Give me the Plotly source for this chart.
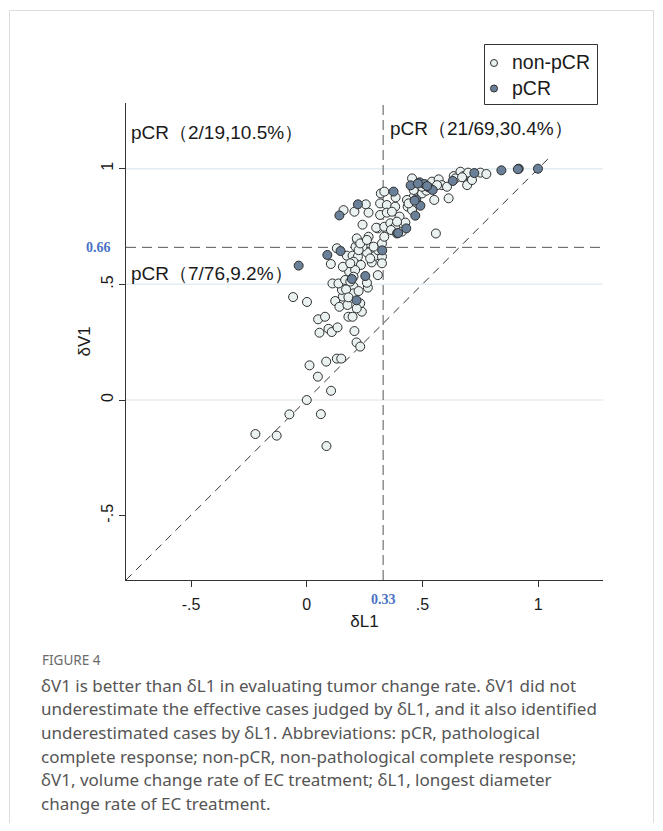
import plotly.graph_objects as go

# ---------------- data ----------------
nonpcr_x = [-0.222, -0.130, -0.075, 0.000, 0.061, 0.085, 0.105, 0.048, 0.012, 0.084,
            0.130, 0.149, 0.215, 0.231, 0.206, 0.055, 0.094, 0.108, 0.133, 0.049,
            0.079, 0.180, 0.198, 0.238, -0.059, 0.001, 0.123, 0.141, 0.176, 0.156,
            0.152, 0.111, 0.137, 0.202, 0.202, 0.264, 0.307, 0.231, 0.216,
            0.130, 0.104, 0.173, 0.198, 0.221, 0.260, 0.281, 0.296, 0.325, 0.307,
            0.241, 0.211, 0.219, 0.267, 0.202, 0.234, 0.183, 0.209, 0.274, 0.166,
            0.260, 0.188, 0.156, 0.188, 0.224, 0.289, 0.325, 0.170, 0.202, 0.224, 0.180,
            0.159, 0.206, 0.255, 0.267, 0.241, 0.216, 0.317, 0.317, 0.307, 0.320,
            0.300, 0.231, 0.260,
            0.335, 0.346, 0.382, 0.384, 0.346, 0.368, 0.401, 0.335, 0.361, 0.382,
            0.426, 0.411, 0.436, 0.455, 0.462, 0.469, 0.498, 0.517, 0.541, 0.551,
            0.570, 0.584, 0.606, 0.613, 0.558, 0.635, 0.664, 0.678, 0.697, 0.693,
            0.714, 0.750, 0.776, 0.462, 0.433, 0.455, 0.390, 0.364, 0.440, 0.498,
            0.563, 0.642, 0.671, 0.335, 0.325]
nonpcr_y = [-0.147, -0.154, -0.062, 0.000, -0.061, -0.199, 0.040, 0.101, 0.150, 0.166,
            0.179, 0.179, 0.249, 0.231, 0.298, 0.291, 0.308, 0.294, 0.314, 0.349,
            0.360, 0.360, 0.360, 0.382, 0.445, 0.424, 0.428, 0.403, 0.411, 0.447,
            0.476, 0.504, 0.504, 0.490, 0.461, 0.486, 0.540, 0.418, 0.396,
            0.656, 0.588, 0.624, 0.624, 0.620, 0.638, 0.595, 0.624, 0.620, 0.648,
            0.663, 0.663, 0.689, 0.706, 0.598, 0.584, 0.555, 0.562, 0.612, 0.519,
            0.507, 0.512, 0.576, 0.591, 0.648, 0.663, 0.677, 0.478, 0.533, 0.471, 0.444,
            0.821, 0.814, 0.846, 0.810, 0.758, 0.699, 0.850, 0.800, 0.742, 0.893,
            0.745, 0.677, 0.692,
            0.901, 0.843, 0.836, 0.876, 0.810, 0.814, 0.793, 0.749, 0.764, 0.749,
            0.767, 0.728, 0.836, 0.958, 0.879, 0.850, 0.893, 0.905, 0.944, 0.865,
            0.954, 0.929, 0.922, 0.872, 0.720, 0.968, 0.987, 0.968, 0.983, 0.929,
            0.951, 0.983, 0.977, 0.908, 0.865, 0.821, 0.771, 0.735, 0.850, 0.922,
            0.929, 0.958, 0.963, 0.706, 0.591]

pcr_x = [0.141, 0.221, 0.089, 0.146, -0.035, 0.195, 0.253, 0.215, 0.326,
         0.375, 0.390, 0.430, 0.449, 0.488, 0.508, 0.527, 0.544, 0.473, 0.491,
         0.469, 0.631, 0.724, 0.841, 0.916, 0.999, 0.912, 0.480, 0.466, 0.395, 0.520]
pcr_y = [0.798, 0.846, 0.627, 0.644, 0.581, 0.523, 0.536, 0.431, 0.647,
         0.901, 0.720, 0.742, 0.928, 0.941, 0.934, 0.919, 0.908, 0.867, 0.840,
         0.797, 0.947, 0.981, 0.993, 1.000, 1.000, 0.998, 0.936, 0.862, 0.722, 0.925]

series_names = ["non-pCR", "pCR"]
series_colors = ["#e9f1f1", "#6a7f98"]

tick_vals = [-0.5, 0, 0.5, 1]
tick_text = ["-.5", "0", ".5", "1"]
grid_vals = [0, 0.5, 1]
cut_l1 = 0.33
cut_v1 = 0.66
x_range = [-0.781, 1.280]
y_range = [-0.778, 1.284]
diag_end = 1.06

quad_labels = ["pCR（2/19,10.5%）", "pCR（21/69,30.4%）", "pCR（7/76,9.2%）"]
quad_x = [-0.770, 0.352, -0.770]
quad_y = [1.155, 1.174, 0.545]

caption_title = "FIGURE 4"
caption_lines = [
    "δV1 is better than δL1 in evaluating tumor change rate. δV1 did not",
    "underestimate the effective cases judged by δL1, and it also identified",
    "underestimated cases by δL1. Abbreviations: pCR, pathological",
    "complete response; non-pCR, non-pathological complete response;",
    "δV1, volume change rate of EC treatment; δL1, longest diameter",
    "change rate of EC treatment.",
]

# ---------------- figure ----------------
OFF = 8                      # page body margin
W, H = 647, 815
ML, MR, MT, MB = 118, 52, 95, 243
PW = W - ML - MR
PH = H - MT - MB


def px_x(p):                 # reference-page pixel -> paper x
    return (p - OFF - ML) / PW


def px_y(p):                 # reference-page pixel -> paper y
    return (H - MB - (p - OFF)) / PH


FONT = "Liberation Sans, Arial, sans-serif"
OUTLINE = "#2e2e2e"

fig = go.Figure()
fig.add_trace(go.Scatter(
    x=nonpcr_x, y=nonpcr_y, mode="markers", name=series_names[0],
    marker=dict(size=9, color=series_colors[0], line=dict(color=OUTLINE, width=1)),
))
fig.add_trace(go.Scatter(
    x=pcr_x, y=pcr_y, mode="markers", name=series_names[1],
    marker=dict(size=9, color=series_colors[1], line=dict(color=OUTLINE, width=1)),
))

shapes = []
for g in grid_vals:
    shapes.append(dict(type="line", xref="paper", yref="y", x0=0, x1=1, y0=g, y1=g,
                       line=dict(color="#e4edf1", width=1.5), layer="below"))
shapes.append(dict(type="line", xref="x", yref="y", x0=cut_l1, x1=cut_l1,
                   y0=y_range[0], y1=y_range[1],
                   line=dict(color="#555555", width=1, dash="10px,5px"), layer="below"))
shapes.append(dict(type="line", xref="x", yref="y", x0=x_range[0], x1=x_range[1],
                   y0=cut_v1, y1=cut_v1,
                   line=dict(color="#555555", width=1, dash="10px,6px"), layer="below"))
shapes.append(dict(type="line", xref="x", yref="y", x0=x_range[0], x1=diag_end,
                   y0=y_range[0], y1=diag_end,
                   line=dict(color="#333333", width=1, dash="8px,6px"), layer="below"))
# card border
shapes.append(dict(type="rect", xref="paper", yref="paper",
                   x0=px_x(9.5), x1=px_x(653.5), y0=px_y(10.5), y1=px_y(860),
                   line=dict(color="#dddddd", width=1), layer="below"))

# legend box (drawn to match the Stata-style legend)
shapes.append(dict(type="rect", xref="paper", yref="paper",
                   x0=px_x(484.5), x1=px_x(597.5), y0=px_y(44.5), y1=px_y(104.5),
                   line=dict(color="#333333", width=1), fillcolor="white", layer="above"))
annotations = []
for i, (nm, col) in enumerate(zip(series_names, series_colors)):
    cy = 63 + 25.5 * i
    shapes.append(dict(type="circle", xref="paper", yref="paper",
                       x0=px_x(490.5), x1=px_x(497.5), y0=px_y(cy - 3.5), y1=px_y(cy + 3.5),
                       line=dict(color=OUTLINE, width=1), fillcolor=col, layer="above"))
    annotations.append(dict(text=nm, x=px_x(510), y=px_y(cy - 1), xref="paper", yref="paper",
                            xanchor="left", yanchor="middle", showarrow=False,
                            font=dict(family=FONT, size=19.5, color="#1a1a1a")))

for t, xx, yy in zip(quad_labels, quad_x, quad_y):
    annotations.append(dict(text=t, x=xx, y=yy, xref="x", yref="y", xanchor="left",
                            yanchor="middle", showarrow=False,
                            font=dict(family=FONT, size=19, color="#1a1a1a")))
annotations.append(dict(text="<b>0.66</b>", x=px_x(113), y=cut_v1, xref="paper", yref="y",
                        xanchor="right", yanchor="middle", showarrow=False,
                        font=dict(family="Liberation Serif, Times New Roman, serif",
                                  size=14, color="#4a72c4")))
annotations.append(dict(text="<b>0.33</b>", x=cut_l1, y=px_y(599), xref="x", yref="paper",
                        xanchor="center", yanchor="middle", showarrow=False,
                        font=dict(family="Liberation Serif, Times New Roman, serif",
                                  size=14, color="#4a72c4")))
annotations.append(dict(text="δV1", x=px_x(84), y=0.5, xref="paper", yref="paper",
                        xanchor="center", yanchor="middle", textangle=-90, showarrow=False,
                        font=dict(family=FONT, size=17, color="#1a1a1a")))
annotations.append(dict(text=caption_title, x=px_x(40), y=px_y(660), xref="paper",
                        yref="paper", xanchor="left", yanchor="middle", showarrow=False,
                        font=dict(family="Noto Sans, sans-serif", size=13.5, color="#6b6b6b")))
for i, line in enumerate(caption_lines):
    annotations.append(dict(text=line, x=px_x(39), y=px_y(685 + 23.7 * i), xref="paper",
                            yref="paper", xanchor="left", yanchor="middle",
                            showarrow=False,
                            font=dict(family="Noto Sans, sans-serif", size=17,
                                      color="#555555")))

axis_common = dict(
    tickvals=tick_vals, ticktext=tick_text, ticks="outside", ticklen=6,
    tickcolor="#333333", tickwidth=1, showline=True, linecolor="#333333",
    linewidth=1, showgrid=False, zeroline=False,
    tickfont=dict(family=FONT, size=16, color="#1a1a1a"),
)

fig.update_layout(
    width=W, height=H,
    margin=dict(l=ML, r=MR, t=MT, b=MB, pad=0),
    paper_bgcolor="white", plot_bgcolor="white",
    xaxis=dict(range=x_range, ticklabelstandoff=4,
               title=dict(text="δL1", standoff=2,
                          font=dict(family=FONT, size=17, color="#1a1a1a")),
               **axis_common),
    yaxis=dict(range=y_range, tickangle=-90, **axis_common),
    showlegend=False,
    shapes=shapes,
    annotations=annotations,
)

fig.write_html("out.html")
